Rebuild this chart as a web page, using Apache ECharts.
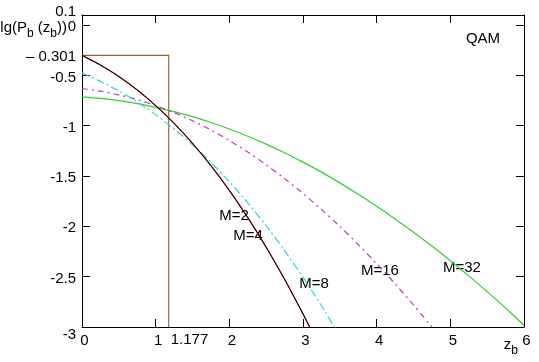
<!DOCTYPE html>
<html><head><meta charset="utf-8">
<style>html,body{margin:0;padding:0;background:#fff}#c{width:539px;height:362px}</style>
<script src="https://cdn.jsdelivr.net/npm/echarts@6/dist/echarts.min.js"></script>
</head><body><div id="c"></div>
<script>
// ---- data (z_b, lg(P_b)) ----
const shannonZ  = [0, 1.177, 1.177];
const shannonLg = [-0.301, -0.301, -3];

const zM2  = [0,0.25,0.5,0.75,1,1.25,1.5,1.75,2,2.25,2.5,2.75,3,3.1];
const lgM2 = [-0.301,-0.397,-0.511,-0.645,-0.800,-0.976,-1.175,-1.397,-1.643,-1.913,-2.207,-2.526,-2.870,-3.014];
const zM4  = [0,0.25,0.5,0.75,1,1.25,1.5,1.75,2,2.25,2.5,2.75,3,3.1];
const lgM4 = [-0.301,-0.397,-0.511,-0.645,-0.800,-0.976,-1.175,-1.397,-1.643,-1.913,-2.207,-2.526,-2.870,-3.014];
const zM8  = [0,0.25,0.5,0.75,1,1.25,1.5,1.75,2,2.25,2.5,2.75,3,3.25,3.5];
const lgM8 = [-0.477,-0.559,-0.654,-0.765,-0.890,-1.032,-1.189,-1.364,-1.557,-1.766,-1.994,-2.241,-2.505,-2.789,-3.090];
const zM16  = [0,0.25,0.5,0.75,1,1.25,1.5,1.75,2,2.25,2.5,2.75,3,3.25,3.5,3.75,4,4.25,4.5,4.75];
const lgM16 = [-0.630,-0.657,-0.694,-0.741,-0.800,-0.870,-0.951,-1.043,-1.147,-1.262,-1.389,-1.526,-1.673,-1.832,-2.001,-2.181,-2.371,-2.571,-2.781,-3.001];
const zM32  = [0,0.25,0.5,0.75,1,1.25,1.5,1.75,2,2.25,2.5,2.75,3,3.25,3.5,3.75,4,4.25,4.5,4.75,5,5.25,5.5,5.75,6];
const lgM32 = [-0.713,-0.729,-0.751,-0.781,-0.817,-0.860,-0.910,-0.968,-1.033,-1.105,-1.183,-1.269,-1.362,-1.461,-1.568,-1.681,-1.800,-1.926,-2.058,-2.196,-2.341,-2.492,-2.649,-2.813,-2.982];

const xTicks = [0,1,2,3,4,5,6];
const yTickMarks = [-3,-2.5,-2,-1.5,-1,-0.5,0];
const yLabelValues = [-3,-2.5,-2,-1.5,-1,-0.5,-0.301,0];
const yTopLabel = 0.1;
const curveNames = ['M=2','M=4','M=8','M=16','M=32'];

// ---- chart ----
const FONT = '"Liberation Sans", Arial, sans-serif';
const chart = echarts.init(document.getElementById('c'), null, {renderer:'canvas'});
const pairs = (xs, ys) => xs.map((x, i) => [x, ys[i]]);
const axLine = {show:true, onZero:false, lineStyle:{color:'#000', width:1}};

function yFmt(v){
  if (Math.abs(v + 0.301) < 1e-6) return '\u2013 0.301';
  if (Math.abs(v + 3) < 1e-6) return '{lo|-3}';
  return String(+v.toFixed(3));
}

const lineBase = {type:'line', showSymbol:false, symbol:'none', smooth:0.3, clip:true, silent:true, xAxisIndex:0, yAxisIndex:0};

chart.setOption({
  animation:false,
  backgroundColor:'#fff',
  grid:{left:82, right:15, top:15, bottom:35},
  xAxis:[
    {type:'value', min:0, max:6, interval:1, position:'bottom',
     axisLine:axLine,
     axisTick:{show:true, inside:true, length:8, lineStyle:{color:'#000'}},
     axisLabel:{color:'#000', fontSize:15, fontFamily:FONT, margin:6, padding:[0,0,0,5],
                customValues:xTicks, showMaxLabel:true, showMinLabel:true},
     splitLine:{show:false}},
    {type:'value', min:0, max:6, interval:1, position:'top',
     axisLine:axLine,
     axisTick:{show:true, inside:true, length:8, lineStyle:{color:'#000'}},
     axisLabel:{show:false}, splitLine:{show:false}}
  ],
  yAxis:[
    {type:'value', min:-3, max:0.1, interval:0.5, position:'left',
     axisLine:axLine,
     axisTick:{show:true, inside:true, length:8, lineStyle:{color:'#000'}, customValues:yTickMarks},
     axisLabel:{color:'#000', fontSize:15, fontFamily:FONT, margin:6, padding:[4,0,0,0],
                customValues:yLabelValues, formatter:yFmt, hideOverlap:false,
                rich:{lo:{fontSize:15, fontFamily:FONT, color:'#000', padding:[12,0,0,0]}}},
     splitLine:{show:false}},
    {type:'value', min:-3, max:0.1, interval:0.5, position:'right',
     axisLine:axLine,
     axisTick:{show:true, inside:true, length:8, lineStyle:{color:'#000'}, customValues:yTickMarks},
     axisLabel:{show:false}, splitLine:{show:false}}
  ],
  series:[
    Object.assign({}, lineBase, {name:'Shannon', smooth:false, data:pairs(shannonZ, shannonLg),
      lineStyle:{color:'#94602c', width:1.1}}),
    Object.assign({}, lineBase, {name:curveNames[4], data:pairs(zM32, lgM32),
      lineStyle:{color:'#2fd22f', width:1.2}}),
    Object.assign({}, lineBase, {name:curveNames[3], data:pairs(zM16, lgM16),
      lineStyle:{color:'#c832c8', width:1.2, type:[6,4,2,4]}}),
    Object.assign({}, lineBase, {name:curveNames[2], data:pairs(zM8, lgM8),
      lineStyle:{color:'#27d4d8', width:1.2, type:[8,3,2,3]}}),
    Object.assign({}, lineBase, {name:curveNames[1], data:pairs(zM4, lgM4),
      lineStyle:{color:'#d01010', width:1.2}}),
    Object.assign({}, lineBase, {name:curveNames[0], data:pairs(zM2, lgM2),
      lineStyle:{color:'#000', width:1}})
  ]
});

// ---- text annotations (positions in data coordinates) ----
const P = (x, y) => chart.convertToPixel({xAxisIndex:0, yAxisIndex:0}, [x, y]);
const annots = [
  {t:'QAM',  at:[5.443,-0.138]},
  {t:'M=2',  at:[2.063,-1.897]},
  {t:'M=4',  at:[2.253,-2.096]},
  {t:'M=8',  at:[3.149,-2.573]},
  {t:'M=16', at:[4.045,-2.444]},
  {t:'M=32', at:[5.158,-2.414]}
];
const ctx = document.createElement('canvas').getContext('2d');
function w(t, size){ ctx.font = size + 'px ' + FONT; return ctx.measureText(t).width; }
function run(xRight, yMid, pieces){
  let total = pieces.reduce((s, p) => s + w(p[0], p[1] ? 12 : 15), 0);
  let x = xRight - total;
  const out = [];
  pieces.forEach(p => {
    const size = p[1] ? 12 : 15;
    out.push({type:'text', x:x, y: yMid + (p[1] ? 6 : 0), silent:true,
      style:{text:p[0], font: size + 'px ' + FONT, fill:'#000', align:'left', verticalAlign:'middle'}});
    x += w(p[0], size);
  });
  return out;
}
const g = [];
annots.forEach(a => {
  const p = P(a.at[0], a.at[1]);
  g.push({type:'text', x:p[0], y:p[1], silent:true,
    style:{text:a.t, font:'15px ' + FONT, fill:'#000', align:'center', verticalAlign:'middle'}});
});
// top value label of the y-axis
const pt = P(0, yTopLabel);
g.push({type:'text', x:pt[0] - 6, y:pt[1] - 3, silent:true,
  style:{text:String(yTopLabel), font:'15px ' + FONT, fill:'#000', align:'right', verticalAlign:'middle'}});
const pv = P(1.177, -3);
g.push({type:'text', x:pv[0] + 2, y:pv[1] + 13, silent:true,
  style:{text:'1.177', font:'15px ' + FONT, fill:'#000', align:'left', verticalAlign:'middle'}});
const p0 = P(0, 0);
run(p0[0] - 15, p0[1] + 3, [['lg(P',0],['b',1],[' (z',0],['b',1],['))',0]]).forEach(e => g.push(e));
const pe = P(6, -3);
run(pe[0] - 6, pe[1] + 18, [['z',0],['b',1]]).forEach(e => g.push(e));
chart.setOption({graphic:g});
</script>
</body></html>
